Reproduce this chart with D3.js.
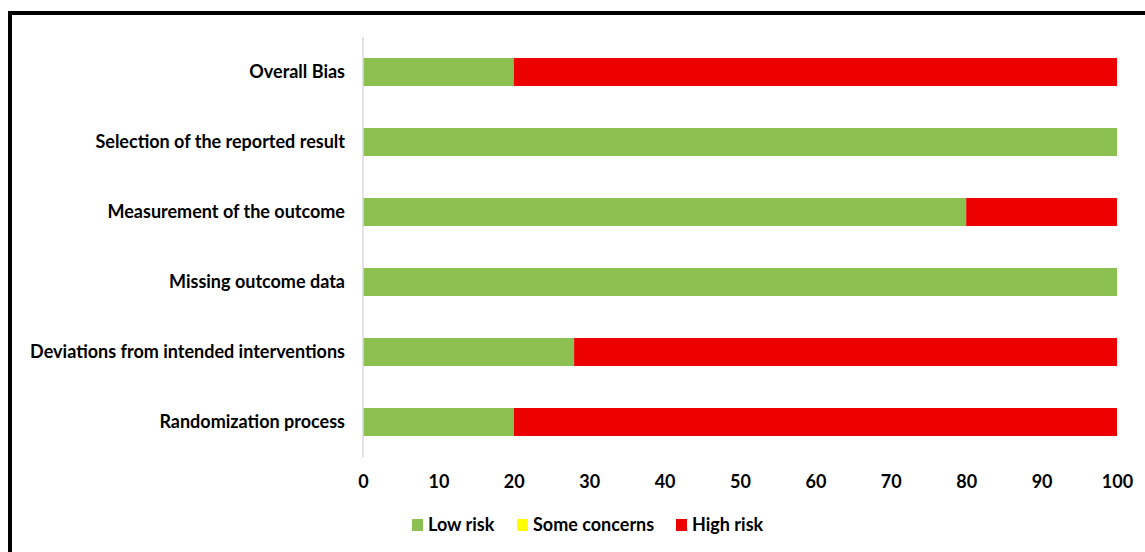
<!DOCTYPE html>
<html>
<head>
<meta charset="utf-8">
<script src="https://cdn.jsdelivr.net/npm/d3@7"></script>
<style>
  body { margin: 0; background: #fff; }
  text { font-family: Lato, "Open Sans", sans-serif; font-weight: bold; fill: #000; }
</style>
</head>
<body>
<svg width="1145" height="552"></svg>
<script>
// domains, bottom to top as drawn
const domains = ["Randomization process", "Deviations from intended interventions", "Missing outcome data",
                 "Measurement of the outcome", "Selection of the reported result", "Overall Bias"];
const lowRisk = [20, 28, 100, 80, 100, 20];
const someConcerns = [0, 0, 0, 0, 0, 0];
const highRisk = [80, 72, 0, 20, 0, 80];
const xTicks = [0, 10, 20, 30, 40, 50, 60, 70, 80, 90, 100];
const seriesNames = ["Low risk", "Some concerns", "High risk"];
const seriesColors = ["#8CC152", "#FFFF00", "#EC0000"];

const svg = d3.select("svg");
const margin = {top: 37, left: 363, right: 28, bottom: 95};
const width = 1145 - margin.left - margin.right;
const height = 552 - margin.top - margin.bottom;

// frame
svg.append("line").attr("x1", 8).attr("x2", 1145).attr("y1", 13).attr("y2", 13)
  .attr("stroke", "#000").attr("stroke-width", 4);
svg.append("line").attr("x1", 10).attr("x2", 10).attr("y1", 11).attr("y2", 552)
  .attr("stroke", "#000").attr("stroke-width", 4);

const g = svg.append("g").attr("transform", "translate(" + margin.left + "," + margin.top + ")");

const x = d3.scaleLinear().domain([0, 100]).range([0, width]);
const y = d3.scaleBand().domain(domains.slice().reverse()).range([0, height]).paddingInner(0.6).paddingOuter(0.3);

const rows = domains.map((d, i) => ({domain: d, "Low risk": lowRisk[i], "Some concerns": someConcerns[i], "High risk": highRisk[i]}));
const stacked = d3.stack().keys(seriesNames)(rows);

g.selectAll("g.series").data(stacked).join("g")
    .attr("class", "series")
    .attr("fill", (d, i) => seriesColors[i])
  .selectAll("rect").data(d => d).join("rect")
    .attr("x", d => x(d[0]))
    .attr("width", d => x(d[1]) - x(d[0]))
    .attr("y", d => y(d.data.domain))
    .attr("height", y.bandwidth());

// vertical axis line
g.append("line").attr("x1", 0).attr("x2", 0).attr("y1", 0).attr("y2", height)
  .attr("stroke", "#D9D9D9").attr("stroke-width", 1.5);

// category labels
const yAxis = g.append("g").call(d3.axisLeft(y).tickSize(0).tickPadding(18));
yAxis.select(".domain").remove();
yAxis.selectAll("text").attr("font-size", 18).style("font-family", "Lato, 'Open Sans', sans-serif").style("font-weight", "bold");

// x axis labels
const xAxis = g.append("g").attr("transform", "translate(0," + height + ")")
  .call(d3.axisBottom(x).tickValues(xTicks).tickSize(0).tickPadding(18));
xAxis.select(".domain").remove();
xAxis.selectAll("text").attr("font-size", 18).style("font-family", "Lato, 'Open Sans', sans-serif").style("font-weight", "bold");

// legend
const legendX = [412, 517, 676];
const legend = svg.append("g").selectAll("g").data(seriesNames).join("g")
  .attr("transform", (d, i) => "translate(" + legendX[i] + ",519)");
legend.append("rect").attr("width", 11).attr("height", 12).attr("fill", (d, i) => seriesColors[i]);
legend.append("text").attr("x", 16).attr("y", 12).attr("font-size", 18).text(d => d);
</script>
</body>
</html>
